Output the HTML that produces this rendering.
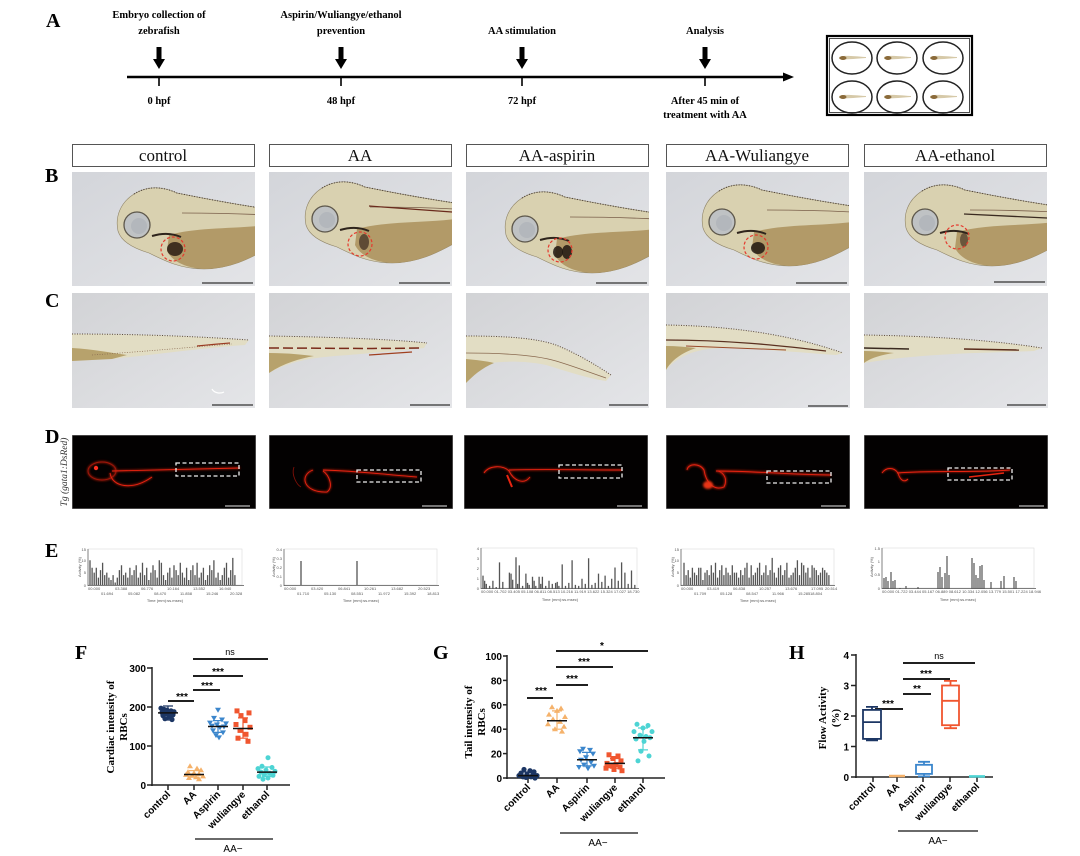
<!DOCTYPE html>
<html><head><meta charset="utf-8"><style>
html,body{margin:0;padding:0;background:#fff;}
svg{display:block;}
.ser{font-family:"Liberation Serif",serif;}
.sans{font-family:"Liberation Sans",sans-serif;}
</style></head><body>
<svg width="1080" height="856" viewBox="0 0 1080 856" xmlns="http://www.w3.org/2000/svg">
<defs>
 <linearGradient id="bgB" x1="0" y1="0" x2="1" y2="1"><stop offset="0" stop-color="#d3d5da"/><stop offset="1" stop-color="#e3e4e7"/></linearGradient>
 <linearGradient id="bgC" x1="0" y1="0" x2="1" y2="1"><stop offset="0" stop-color="#d2d3d6"/><stop offset="1" stop-color="#e4e5e8"/></linearGradient>
 <filter id="glow" x="-20%" y="-50%" width="140%" height="200%"><feGaussianBlur stdDeviation="1.1"/></filter>
 <g id="fishB">
  <path d="M190,36 C150,30 120,24 100,20 C85,13 70,13 57,21 C43,30 38,44 41,58 C44,68 55,75 72,80 C88,88 104,96 127,96 C152,96 172,86 190,76 Z" fill="#d9d1b0" stroke="#8f8468" stroke-width="0.6"/>
  <path d="M92,62 C120,54 160,56 190,52 L190,76 C172,86 152,96 127,96 C108,95 95,88 90,78 Z" fill="#ad9460" opacity="0.9"/>
  <path d="M57,21 C70,13 85,13 100,20 C120,24 150,30 190,36" fill="none" stroke="#4e4236" stroke-width="1.1" stroke-dasharray="1 1.6"/>
  <circle cx="60" cy="52" r="13" fill="#bfc2c4" stroke="#5d574b" stroke-width="1.3"/>
  <circle cx="62" cy="53" r="8" fill="#b3b7bc"/>
  <path d="M75,63 C85,60 95,60 104,64" stroke="#2e241c" stroke-width="2" fill="none"/>
  <path d="M105,40 C140,40 170,41 190,42" stroke="#7a5f4a" stroke-width="0.8" fill="none"/>
 </g>
</defs>

<!-- ===== Panel A ===== -->
<text x="46" y="27" class="ser" font-size="20" font-weight="bold">A</text>
<line x1="127" y1="77" x2="786" y2="77" stroke="#000" stroke-width="2.5"/>
<polygon points="783,72.5 794,77 783,81.5" fill="#000"/>
<g stroke="#000" stroke-width="1.6">
 <line x1="159" y1="77" x2="159" y2="86"/><line x1="341" y1="77" x2="341" y2="86"/>
 <line x1="522" y1="77" x2="522" y2="86"/><line x1="705" y1="77" x2="705" y2="86"/>
</g>
<g fill="#000">
 <rect x="156.5" y="47" width="5" height="13"/><polygon points="153,59 165,59 159,69"/>
 <rect x="338.5" y="47" width="5" height="13"/><polygon points="335,59 347,59 341,69"/>
 <rect x="519.5" y="47" width="5" height="13"/><polygon points="516,59 528,59 522,69"/>
 <rect x="702.5" y="47" width="5" height="13"/><polygon points="699,59 711,59 705,69"/>
</g>
<g class="ser" font-size="10.5" font-weight="bold" text-anchor="middle">
 <text x="159" y="18">Embryo collection of</text><text x="159" y="34">zebrafish</text>
 <text x="341" y="18">Aspirin/Wuliangye/ethanol</text><text x="341" y="34">prevention</text>
 <text x="522" y="34">AA stimulation</text>
 <text x="705" y="34">Analysis</text>
 <text x="159" y="104">0 hpf</text><text x="341" y="104">48 hpf</text><text x="522" y="104">72 hpf</text>
 <text x="705" y="104">After 45 min of</text><text x="705" y="118">treatment with AA</text>
</g>
<rect x="827" y="36" width="145" height="79" fill="#fff" stroke="#000" stroke-width="2.2"/>
<rect x="829.5" y="38.5" width="140" height="74" fill="none" stroke="#000" stroke-width="0.7"/>
<g fill="none" stroke="#222" stroke-width="1.5">
 <ellipse cx="852" cy="58" rx="20" ry="16"/><ellipse cx="897" cy="58" rx="20" ry="16"/><ellipse cx="943" cy="58" rx="20" ry="16"/>
 <ellipse cx="852" cy="97" rx="20" ry="16"/><ellipse cx="897" cy="97" rx="20" ry="16"/><ellipse cx="943" cy="97" rx="20" ry="16"/>
</g>
<g>
 <g transform="translate(852,58)"><path d="M-13,-1 C-8,-3 0,-2 14,-1 L14,0 C0,1 -8,2 -13,1 Z" fill="#d6c9a8"/><ellipse cx="-9" cy="0" rx="3.5" ry="2" fill="#8a6a3a"/></g>
 <g transform="translate(897,58)"><path d="M-13,-1 C-8,-3 0,-2 14,-1 L14,0 C0,1 -8,2 -13,1 Z" fill="#d6c9a8"/><ellipse cx="-9" cy="0" rx="3.5" ry="2" fill="#8a6a3a"/></g>
 <g transform="translate(943,58)"><path d="M-13,-1 C-8,-3 0,-2 14,-1 L14,0 C0,1 -8,2 -13,1 Z" fill="#d6c9a8"/><ellipse cx="-9" cy="0" rx="3.5" ry="2" fill="#8a6a3a"/></g>
 <g transform="translate(852,97)"><path d="M-13,-1 C-8,-3 0,-2 14,-1 L14,0 C0,1 -8,2 -13,1 Z" fill="#d6c9a8"/><ellipse cx="-9" cy="0" rx="3.5" ry="2" fill="#8a6a3a"/></g>
 <g transform="translate(897,97)"><path d="M-13,-1 C-8,-3 0,-2 14,-1 L14,0 C0,1 -8,2 -13,1 Z" fill="#d6c9a8"/><ellipse cx="-9" cy="0" rx="3.5" ry="2" fill="#8a6a3a"/></g>
 <g transform="translate(943,97)"><path d="M-13,-1 C-8,-3 0,-2 14,-1 L14,0 C0,1 -8,2 -13,1 Z" fill="#d6c9a8"/><ellipse cx="-9" cy="0" rx="3.5" ry="2" fill="#8a6a3a"/></g>
</g>

<!-- ===== Header boxes ===== -->
<g fill="#fff" stroke="#555" stroke-width="1">
 <rect x="72.5" y="144.5" width="182" height="22"/><rect x="269.5" y="144.5" width="182" height="22"/>
 <rect x="466.5" y="144.5" width="182" height="22"/><rect x="666.5" y="144.5" width="182" height="22"/>
 <rect x="864.5" y="144.5" width="182" height="22"/>
</g>
<g class="ser" font-size="17" text-anchor="middle" fill="#111">
 <text x="163" y="161">control</text><text x="360" y="161">AA</text><text x="557" y="161">AA-aspirin</text>
 <text x="757" y="161">AA-Wuliangye</text><text x="955" y="161">AA-ethanol</text>
</g>

<!-- ===== Panel letters ===== -->
<g class="ser" font-size="20" font-weight="bold">
 <text x="45" y="182">B</text><text x="45" y="307">C</text><text x="45" y="443">D</text><text x="45" y="557">E</text>
 <text x="75" y="659">F</text><text x="433" y="659">G</text><text x="789" y="659">H</text>
</g>

<!-- ===== Row B ===== -->
<svg x="72" y="172" width="183" height="114">
 <rect width="183" height="114" fill="url(#bgB)"/>
 <use href="#fishB" transform="translate(5,1)"/>
 <ellipse cx="103" cy="77" rx="8" ry="7" fill="#2a1c14" opacity="0.85"/>
 <circle cx="101" cy="77" r="12" fill="none" stroke="#e53a2e" stroke-width="1.2" stroke-dasharray="3 2"/>
 <line x1="130" y1="111" x2="181" y2="111" stroke="#333" stroke-width="1.2"/>
</svg>
<svg x="269" y="172" width="183" height="114">
 <rect width="183" height="114" fill="url(#bgB)"/>
 <use href="#fishB" transform="translate(-4,-5)"/>
 <path d="M100,34 L183,40" stroke="#6a2a1c" stroke-width="1.2"/>
 <ellipse cx="95" cy="70" rx="5" ry="8" fill="#3a2a20" opacity="0.7"/>
 <circle cx="91" cy="72" r="12" fill="none" stroke="#e53a2e" stroke-width="1.2" stroke-dasharray="3 2"/>
 <line x1="130" y1="111" x2="181" y2="111" stroke="#333" stroke-width="1.2"/>
</svg>
<svg x="466" y="172" width="183" height="114">
 <rect width="183" height="114" fill="url(#bgB)"/>
 <use href="#fishB" transform="translate(-1,5)"/>
 <ellipse cx="92" cy="80" rx="5" ry="6" fill="#1e1610" opacity="0.85"/><ellipse cx="101" cy="80" rx="5" ry="7" fill="#1e1610" opacity="0.85"/>
 <circle cx="94" cy="78" r="12" fill="none" stroke="#e53a2e" stroke-width="1.2" stroke-dasharray="3 2"/>
 <line x1="130" y1="111" x2="181" y2="111" stroke="#333" stroke-width="1.2"/>
</svg>
<svg x="666" y="172" width="183" height="114">
 <rect width="183" height="114" fill="url(#bgB)"/>
 <use href="#fishB" transform="translate(-4,-2)"/>
 <ellipse cx="92" cy="76" rx="7" ry="6" fill="#1e1610" opacity="0.85"/>
 <circle cx="90" cy="75" r="12" fill="none" stroke="#e53a2e" stroke-width="1.2" stroke-dasharray="3 2"/>
 <line x1="130" y1="111" x2="181" y2="111" stroke="#333" stroke-width="1.2"/>
</svg>
<svg x="864" y="172" width="183" height="114">
 <rect width="183" height="114" fill="url(#bgB)"/>
 <use href="#fishB" transform="translate(1,-2)"/>
 <path d="M100,42 L183,46" stroke="#3a2a20" stroke-width="1.3"/>
 <ellipse cx="100" cy="68" rx="4" ry="7" fill="#3a2a20" opacity="0.6"/>
 <circle cx="93" cy="65" r="12" fill="none" stroke="#e53a2e" stroke-width="1.2" stroke-dasharray="3 2"/>
 <line x1="130" y1="110" x2="181" y2="110" stroke="#333" stroke-width="1.2"/>
</svg>

<!-- ===== Row C ===== -->
<svg x="72" y="293" width="183" height="115">
 <rect width="183" height="115" fill="url(#bgC)"/>
 <path d="M0,41 C60,41 120,43 177,47 L173,52 C130,55 80,62 40,66 L0,68 Z" fill="#e2ddc4"/>
 <path d="M0,55 C20,56 40,60 55,62 L40,66 L0,68 Z" fill="#b7a26c"/>
 <path d="M0,41 C60,41 120,43 177,47" fill="none" stroke="#5b4a3c" stroke-width="1" stroke-dasharray="1 1.5"/>
 <path d="M20,62 C80,58 120,54 160,51" fill="none" stroke="#8a6a50" stroke-width="0.7" stroke-dasharray="1 1.5"/>
 <path d="M125,53 C135,52 145,51 158,50" stroke="#9a3a22" stroke-width="1.2" fill="none"/>
 <path d="M140,96 C142,100 148,101 152,99" stroke="#fff" stroke-width="1.2" fill="none"/>
 <line x1="140" y1="112" x2="181" y2="112" stroke="#333" stroke-width="1.2"/>
</svg>
<svg x="269" y="293" width="183" height="115">
 <rect width="183" height="115" fill="url(#bgC)"/>
 <path d="M0,43 C60,44 120,46 158,50 L155,55 C130,58 100,60 80,62 C50,64 25,66 0,80 Z" fill="#e2ddc4"/>
 <path d="M0,60 C20,60 35,62 45,63 C30,66 15,70 0,80 Z" fill="#b7a26c"/>
 <path d="M0,43 C60,44 120,46 158,50" fill="none" stroke="#5b4a3c" stroke-width="1" stroke-dasharray="1 1.5"/>
 <path d="M0,55 C50,55 100,56 150,55" fill="none" stroke="#7a2a1a" stroke-width="1.5" stroke-dasharray="10 4"/>
 <path d="M100,62 L143,59" stroke="#a0401f" stroke-width="1.2"/>
 <line x1="141" y1="112" x2="181" y2="112" stroke="#333" stroke-width="1.2"/>
</svg>
<svg x="466" y="293" width="183" height="115">
 <rect width="183" height="115" fill="url(#bgC)"/>
 <path d="M0,43 C40,43 70,45 90,52 C110,60 130,72 145,82 L140,88 C120,85 100,78 80,72 C60,68 40,68 25,70 C15,75 5,85 0,90 Z" fill="#e2ddc4"/>
 <path d="M0,66 C10,67 20,68 28,70 C15,75 5,85 0,90 Z" fill="#b7a26c"/>
 <path d="M0,43 C40,43 70,45 90,52 C110,60 130,72 145,82" fill="none" stroke="#5b4a3c" stroke-width="1" stroke-dasharray="1 1.5"/>
 <path d="M0,60 C40,60 70,62 90,68 C110,74 125,80 140,85" fill="none" stroke="#8a6a50" stroke-width="0.8"/>
 <line x1="143" y1="112" x2="182" y2="112" stroke="#333" stroke-width="1.2"/>
</svg>
<svg x="666" y="293" width="184" height="115">
 <rect width="184" height="115" fill="url(#bgC)"/>
 <path d="M0,32 C60,33 120,40 177,60 L170,62 C140,60 100,56 60,55 C35,55 15,60 0,77 Z" fill="#e2ddc4"/>
 <path d="M0,53 C10,53 20,54 30,55 C15,60 5,68 0,77 Z" fill="#b7a26c"/>
 <path d="M0,32 C60,33 120,40 177,60" fill="none" stroke="#5b4a3c" stroke-width="1" stroke-dasharray="1 1.5"/>
 <path d="M0,47 C60,47 110,52 160,58" fill="none" stroke="#5a3020" stroke-width="1.3"/>
 <path d="M20,53 L120,57" stroke="#9a4a2a" stroke-width="1"/>
 <line x1="142" y1="113" x2="182" y2="113" stroke="#333" stroke-width="1.2"/>
</svg>
<svg x="864" y="293" width="184" height="115">
 <rect width="184" height="115" fill="url(#bgC)"/>
 <path d="M0,42 C60,43 120,46 178,55 L170,58 C120,60 60,60 0,70 Z" fill="#e2ddc4"/>
 <path d="M0,58 C10,58 20,59 30,60 C15,62 5,66 0,70 Z" fill="#b7a26c"/>
 <path d="M0,42 C60,43 120,46 178,55" fill="none" stroke="#5b4a3c" stroke-width="1" stroke-dasharray="1 1.5"/>
 <path d="M0,55 L45,56" stroke="#3a2a20" stroke-width="1.5"/>
 <path d="M100,56 L155,57" stroke="#5a2a1a" stroke-width="1.5"/>
 <line x1="143" y1="112" x2="182" y2="112" stroke="#333" stroke-width="1.2"/>
</svg>

<!-- ===== Row D ===== -->
<text transform="translate(67,472) rotate(-90)" class="ser" font-size="9.5" font-style="italic" text-anchor="middle" fill="#333">Tg (gata1:DsRed)</text>
<svg x="72" y="435" width="184" height="74">
 <rect width="184" height="74" fill="#030101" stroke="#888" stroke-width="1"/>
 <g fill="none" stroke="#e82410">
  <g filter="url(#glow)" opacity="0.6" stroke-width="2"><ellipse cx="30" cy="36" rx="14" ry="9"/><path d="M38,38 C40,52 60,56 80,42 M40,36 L168,33"/></g>
  <g stroke-width="0.9"><ellipse cx="30" cy="36" rx="14" ry="9" stroke="#a01808"/><path d="M38,38 C40,52 60,56 80,42"/><path d="M40,36 L168,33"/></g>
 </g>
 <circle cx="24" cy="33" r="2.2" fill="#ff3020"/>
 <rect x="104" y="28" width="63" height="13" fill="none" stroke="#eee" stroke-width="1.3" stroke-dasharray="4 2.5"/>
 <line x1="153" y1="71" x2="178" y2="71" stroke="#bbb" stroke-width="1.2"/>
</svg>
<svg x="269" y="435" width="184" height="74">
 <rect width="184" height="74" fill="#030101" stroke="#888" stroke-width="1"/>
 <g fill="none" stroke="#e82410">
  <g filter="url(#glow)" opacity="0.6" stroke-width="2"><path d="M44,35 C30,40 34,58 58,57 C65,52 60,40 54,36 M54,35 C90,36 120,40 148,42"/></g>
  <g stroke-width="0.9"><path d="M25,32 C22,40 28,50 32,52" stroke="#801008"/><path d="M44,35 C30,40 34,58 58,57 C65,52 60,40 54,36"/><path d="M54,35 C90,36 120,40 148,42"/></g>
 </g>
 <rect x="88" y="35" width="64" height="12" fill="none" stroke="#eee" stroke-width="1.3" stroke-dasharray="4 2.5"/>
 <line x1="153" y1="71" x2="178" y2="71" stroke="#bbb" stroke-width="1.2"/>
</svg>
<svg x="464" y="435" width="184" height="74">
 <rect width="184" height="74" fill="#030101" stroke="#888" stroke-width="1"/>
 <g fill="none" stroke="#e82410">
  <g filter="url(#glow)" opacity="0.6" stroke-width="2"><path d="M20,38 C25,30 40,30 45,36 C50,46 60,50 66,42 M45,35 C80,34 120,35 158,35"/></g>
  <g stroke-width="0.9"><path d="M20,38 C25,30 40,30 45,36 C50,46 60,50 66,42"/><path d="M45,35 C80,34 120,35 158,35"/><path d="M43,40 L48,52" stroke-width="2"/></g>
 </g>
 <rect x="95" y="30" width="63" height="13" fill="none" stroke="#eee" stroke-width="1.3" stroke-dasharray="4 2.5"/>
 <line x1="153" y1="71" x2="178" y2="71" stroke="#bbb" stroke-width="1.2"/>
</svg>
<svg x="666" y="435" width="184" height="74">
 <rect width="184" height="74" fill="#030101" stroke="#888" stroke-width="1"/>
 <g fill="none" stroke="#e82410">
  <g filter="url(#glow)" opacity="0.65" stroke-width="2.4"><path d="M21,35 C22,28 34,28 38,35 C40,48 48,56 58,52 C62,44 58,38 52,36 M50,36 C90,36 130,40 165,40"/></g>
  <g stroke-width="0.9"><path d="M21,35 C22,28 34,28 38,35 C40,48 48,56 58,52 C62,44 58,38 52,36"/><path d="M50,36 C90,36 130,40 165,40"/></g>
 </g>
 <ellipse cx="42" cy="50" rx="5" ry="4" fill="#e83418" filter="url(#glow)"/>
 <rect x="101" y="36" width="64" height="12" fill="none" stroke="#eee" stroke-width="1.3" stroke-dasharray="4 2.5"/>
 <line x1="155" y1="71" x2="180" y2="71" stroke="#bbb" stroke-width="1.2"/>
</svg>
<svg x="864" y="435" width="184" height="74">
 <rect width="184" height="74" fill="#030101" stroke="#888" stroke-width="1"/>
 <g fill="none" stroke="#e82410">
  <g filter="url(#glow)" opacity="0.6" stroke-width="2"><path d="M18,38 C22,32 30,32 34,38 C36,45 40,48 44,44 M33,38 C70,35 110,38 146,35"/></g>
  <g stroke-width="0.9"><path d="M18,38 C22,32 30,32 34,38 C36,45 40,48 44,44"/><path d="M33,38 C70,35 110,38 146,35"/><path d="M105,42 L140,38" stroke-width="1.6"/></g>
 </g>
 <rect x="84" y="33" width="64" height="12" fill="none" stroke="#eee" stroke-width="1.3" stroke-dasharray="4 2.5"/>
 <line x1="155" y1="71" x2="180" y2="71" stroke="#bbb" stroke-width="1.2"/>
</svg>

<!-- ===== Row E ===== -->
<g class="sans" font-size="4" fill="#555">
 <rect x="88" y="549" width="154" height="36" fill="none" stroke="#ddd" stroke-width="0.6"/>
 <line x1="88" y1="549" x2="88" y2="586" stroke="#555" stroke-width="0.7"/>
 <line x1="88" y1="585.5" x2="244" y2="585.5" stroke="#555" stroke-width="0.7"/>
 <g transform="translate(90,585) scale(2.1,-2.47)" stroke="#555">
  <path vector-effect="non-scaling-stroke" stroke-width="1.3" d="M0 0V10M1 0V7M2 0V5M3 0V7M4 0V3M5 0V6M6 0V9M7 0V4M8 0V5M9 0V3M10 0V2M11 0V4M12 0V1M13 0V3M14 0V6M15 0V8M16 0V4M17 0V5M18 0V3M19 0V7M20 0V4M21 0V6M22 0V8M23 0V3M24 0V5M25 0V9M26 0V4M27 0V7M28 0V2M29 0V5M30 0V8M31 0V6M32 0V3M33 0V10M34 0V9M35 0V4M36 0V2M37 0V5M38 0V7M39 0V3M40 0V8M41 0V6M42 0V4M43 0V9M44 0V5M45 0V3M46 0V7M47 0V2M48 0V6M49 0V8M50 0V4M51 0V9M52 0V3M53 0V5M54 0V7M55 0V2M56 0V4M57 0V8M58 0V6M59 0V10M60 0V3M61 0V5M62 0V2M63 0V4M64 0V7M65 0V9M66 0V3M67 0V6M68 0V11M69 0V4"/>
 </g>
 <text x="86" y="551" text-anchor="end">15</text><text x="86" y="562" text-anchor="end">10</text><text x="86" y="574" text-anchor="end">5</text><text x="86" y="587" text-anchor="end">0</text>
 <text transform="translate(81,567) rotate(-90)" text-anchor="middle">Activity (%)</text>
 <text x="88" y="590">00.000</text><text x="115" y="590">03.388</text><text x="141" y="590">06.776</text><text x="167" y="590">10.164</text><text x="193" y="590">13.552</text><text x="219" y="590">16.940</text>
 <text x="101" y="595">01.694</text><text x="128" y="595">05.082</text><text x="154" y="595">08.470</text><text x="180" y="595">11.858</text><text x="206" y="595">15.246</text><text x="230" y="595">20.328</text>
 <text x="165" y="602" text-anchor="middle">Time (mm):ss.msec)</text>

 <rect x="284" y="549" width="153" height="36" fill="none" stroke="#ddd" stroke-width="0.6"/>
 <line x1="284" y1="549" x2="284" y2="586" stroke="#555" stroke-width="0.7"/>
 <line x1="284" y1="585.5" x2="439" y2="585.5" stroke="#555" stroke-width="0.7"/>
 <line x1="301" y1="585" x2="301" y2="561" stroke="#555" stroke-width="1.3"/>
 <line x1="357" y1="585" x2="357" y2="561" stroke="#555" stroke-width="1.3"/>
 <text x="282" y="551" text-anchor="end">0.4</text><text x="282" y="560" text-anchor="end">0.3</text><text x="282" y="569" text-anchor="end">0.2</text><text x="282" y="578" text-anchor="end">0.1</text><text x="282" y="587" text-anchor="end">0</text>
 <text transform="translate(275,567) rotate(-90)" text-anchor="middle">Activity (%)</text>
 <text x="284" y="590">00.000</text><text x="311" y="590">03.420</text><text x="338" y="590">06.841</text><text x="364" y="590">10.261</text><text x="391" y="590">13.682</text><text x="418" y="590">20.523</text>
 <text x="297" y="595">01.710</text><text x="324" y="595">05.130</text><text x="351" y="595">08.551</text><text x="378" y="595">11.972</text><text x="404" y="595">15.392</text><text x="427" y="595">18.813</text>
 <text x="361" y="602" text-anchor="middle">Time (mm):ss.msec)</text>

 <rect x="481" y="548" width="156" height="40" fill="none" stroke="#ddd" stroke-width="0.6"/>
 <line x1="481" y1="548" x2="481" y2="589" stroke="#555" stroke-width="0.7"/>
 <line x1="481" y1="588.5" x2="639" y2="588.5" stroke="#555" stroke-width="0.7"/>
 <g transform="translate(483,589) scale(3.3,-10.25)" stroke="#555">
  <path vector-effect="non-scaling-stroke" stroke-width="1.3" d="M0 0V1.3M0.5 0V0.8M1 0V0.5M2 0V0.3M3 0V0.8M4 0V0.2M5 0V2.6M6 0V0.7M8 0V1.6M8.5 0V1.5M9 0V0.9M10 0V3.1M10.5 0V0.5M11 0V2.3M12 0V0.3M13 0V1.5M13.5 0V0.6M14 0V0.4M15 0V1.2M15.5 0V0.8M16 0V0.3M17 0V1.2M17.5 0V0.5M18 0V1.2M19 0V0.3M20 0V0.8M21 0V0.5M22 0V0.6M22.5 0V0.7M23 0V0.3M24 0V2.4M25 0V0.3M26 0V0.6M27 0V2.8M28 0V0.4M29 0V0.3M30 0V1.0M31 0V0.5M32 0V3.0M33 0V0.4M34 0V0.6M35 0V1.5M36 0V0.7M37 0V1.3M38 0V0.3M39 0V1.0M40 0V2.1M41 0V0.8M42 0V2.6M43 0V1.6M44 0V0.5M45 0V1.8M46 0V0.4"/>
 </g>
 <text x="479" y="550" text-anchor="end">4</text><text x="479" y="560" text-anchor="end">3</text><text x="479" y="570" text-anchor="end">2</text><text x="479" y="580" text-anchor="end">1</text><text x="479" y="590" text-anchor="end">0</text>
 <text x="481" y="593">00.000 01.702 03.405 05.108 06.811 08.513 10.216 11.919 13.622 15.324 17.027 18.730</text>
 <text x="560" y="601" text-anchor="middle">Time (mm):ss.msec)</text>

 <rect x="681" y="549" width="153" height="36" fill="none" stroke="#ddd" stroke-width="0.6"/>
 <line x1="681" y1="549" x2="681" y2="586" stroke="#555" stroke-width="0.7"/>
 <line x1="681" y1="585.5" x2="835" y2="585.5" stroke="#555" stroke-width="0.7"/>
 <g transform="translate(684,585) scale(2.1,-2.47)" stroke="#555">
  <path vector-effect="non-scaling-stroke" stroke-width="1.3" d="M0 0V9M1 0V4M2 0V6M3 0V3M4 0V7M5 0V5M6 0V4M7 0V7M8 0V7M9 0V2M10 0V5M11 0V6M12 0V4M13 0V8M14 0V5M15 0V9M16 0V3M17 0V6M18 0V8M19 0V4M20 0V7M21 0V5M22 0V4M23 0V8M24 0V5M25 0V5M26 0V3M27 0V6M28 0V4M29 0V7M30 0V9M31 0V3M32 0V8M33 0V4M34 0V5M35 0V7M36 0V9M37 0V4M38 0V5M39 0V8M40 0V4M41 0V6M42 0V11M43 0V5M44 0V3M45 0V7M46 0V8M47 0V4M48 0V6M49 0V9M50 0V3M51 0V4M52 0V5M53 0V7M54 0V10M55 0V4M56 0V9M57 0V8M58 0V5M59 0V7M60 0V3M61 0V8M62 0V7M63 0V6M64 0V4M65 0V5M66 0V7M67 0V6M68 0V5M69 0V4"/>
 </g>
 <text x="679" y="551" text-anchor="end">15</text><text x="679" y="562" text-anchor="end">10</text><text x="679" y="574" text-anchor="end">5</text><text x="679" y="587" text-anchor="end">0</text>
 <text transform="translate(674,567) rotate(-90)" text-anchor="middle">Activity (%)</text>
 <text x="681" y="590">00.000</text><text x="707" y="590">03.419</text><text x="733" y="590">06.838</text><text x="759" y="590">10.257</text><text x="785" y="590">13.676</text><text x="811" y="590">17.095</text><text x="825" y="590">20.514</text>
 <text x="694" y="595">01.709</text><text x="720" y="595">05.128</text><text x="746" y="595">08.547</text><text x="772" y="595">11.966</text><text x="798" y="595">15.285</text><text x="810" y="595">18.804</text>
 <text x="758" y="602" text-anchor="middle">Time (mm):ss.msec)</text>

 <rect x="882" y="548" width="152" height="40" fill="none" stroke="#ddd" stroke-width="0.6"/>
 <line x1="882" y1="548" x2="882" y2="589" stroke="#555" stroke-width="0.7"/>
 <line x1="882" y1="588.5" x2="1036" y2="588.5" stroke="#555" stroke-width="0.7"/>
 <path stroke="#555" stroke-width="1.2" d="M884 589V578M886 589V577M888 589V581M891 589V572M893 589V581M895 589V580M900 589V588M906 589V586M918 589V587M938 589V572M940 589V567M942 589V577M945 589V573M947 589V556M949 589V575M972 589V558M974 589V563M976 589V575M978 589V578M980 589V566M982 589V565M984 589V580M991 589V582M1001 589V581M1004 589V576M1014 589V577M1016 589V581"/>
 <text x="880" y="550" text-anchor="end">1.5</text><text x="880" y="563" text-anchor="end">1</text><text x="880" y="576" text-anchor="end">0.5</text><text x="880" y="590" text-anchor="end">0</text>
 <text transform="translate(873,567) rotate(-90)" text-anchor="middle">Activity (%)</text>
 <text x="882" y="593">00.000 01.722 03.444 05.167 06.889 08.612 10.334 12.056 13.779 15.501 17.224 18.946</text>
 <text x="958" y="601" text-anchor="middle">Time (mm):ss.msec)</text>
</g>

<!-- ===== Panel F ===== -->
<g class="sans" font-weight="bold" font-size="10">
 <line x1="152" y1="667" x2="152" y2="786" stroke="#222" stroke-width="1.5"/>
 <line x1="151" y1="785" x2="290" y2="785" stroke="#222" stroke-width="1.5"/>
 <g stroke="#222" stroke-width="1.5">
  <line x1="147" y1="785" x2="152" y2="785"/><line x1="147" y1="746" x2="152" y2="746"/><line x1="147" y1="707" x2="152" y2="707"/><line x1="147" y1="668" x2="152" y2="668"/>
  <line x1="168" y1="785" x2="168" y2="790"/><line x1="194" y1="785" x2="194" y2="790"/><line x1="218" y1="785" x2="218" y2="790"/><line x1="243" y1="785" x2="243" y2="790"/><line x1="267" y1="785" x2="267" y2="790"/>
 </g>
 <text x="146" y="789" text-anchor="end">0</text><text x="146" y="750" text-anchor="end">100</text><text x="146" y="711" text-anchor="end">200</text><text x="146" y="672" text-anchor="end">300</text>
 <g text-anchor="end">
  <text transform="translate(171,795) rotate(-45)">control</text>
  <text transform="translate(197,795) rotate(-45)">AA</text>
  <text transform="translate(221,795) rotate(-45)">Aspirin</text>
  <text transform="translate(246,795) rotate(-45)">wuliangye</text>
  <text transform="translate(270,795) rotate(-45)">ethanol</text>
 </g>
 <line x1="195" y1="839" x2="273" y2="839" stroke="#111" stroke-width="1.3"/>
 <text x="233" y="852" text-anchor="middle" font-weight="normal">AA−</text>
 <g class="ser" font-size="11" text-anchor="middle">
  <text transform="translate(114,727) rotate(-90)">Cardiac intensity of</text>
  <text transform="translate(127,727) rotate(-90)">RBCs</text>
 </g>
 <g stroke="#000" stroke-width="1.8">
  <line x1="193" y1="659" x2="268" y2="659"/><line x1="193" y1="676" x2="243" y2="676"/>
  <line x1="193" y1="690" x2="220" y2="690"/><line x1="168" y1="701" x2="194" y2="701"/>
 </g>
 <text x="230" y="655" text-anchor="middle" font-weight="normal" font-size="9">ns</text>
 <text x="218" y="675" text-anchor="middle">***</text>
 <text x="207" y="689" text-anchor="middle">***</text>
 <text x="182" y="700" text-anchor="middle">***</text>
 <g fill="#1c3664">
  <circle cx="161" cy="708.2" r="2.6"/><circle cx="164" cy="709.3" r="2.6"/><circle cx="167" cy="710.1" r="2.6"/><circle cx="171" cy="710.9" r="2.6"/><circle cx="174" cy="711.7" r="2.6"/><circle cx="162" cy="712.5" r="2.6"/><circle cx="170" cy="712.9" r="2.6"/><circle cx="166" cy="713.6" r="2.6"/><circle cx="173" cy="714.8" r="2.6"/><circle cx="163" cy="715.6" r="2.6"/><circle cx="169" cy="716.8" r="2.6"/><circle cx="165" cy="718.7" r="2.6"/><circle cx="172" cy="719.5" r="2.6"/>
 </g>
 <g fill="#f5b26b">
  <polygon points="190,763.3 187,768.3 193,768.3"/><polygon points="197,765.6 194,770.6 200,770.6"/><polygon points="201,767.2 198,772.2 204,772.2"/><polygon points="188,769.1 185,774.1 191,774.1"/><polygon points="194,770.3 191,775.3 197,775.3"/><polygon points="199,771.1 196,776.1 202,776.1"/><polygon points="186,771.9 183,776.9 189,776.9"/><polygon points="192,772.6 189,777.6 195,777.6"/><polygon points="203,773.4 200,778.4 206,778.4"/><polygon points="196,774.2 193,779.2 199,779.2"/><polygon points="189,775 186,780 192,780"/><polygon points="199,776.2 196,781.2 202,781.2"/>
 </g>
 <g fill="#3b86cc">
  <polygon points="218,712.7 215,707.7 221,707.7"/><polygon points="214,720.9 211,715.9 217,715.9"/><polygon points="222,722.5 219,717.5 225,717.5"/><polygon points="210,725.6 207,720.6 213,720.6"/><polygon points="226,726.4 223,721.4 229,721.4"/><polygon points="217,727.5 214,722.5 220,722.5"/><polygon points="212,728.7 209,723.7 215,723.7"/><polygon points="224,729.5 221,724.5 227,724.5"/><polygon points="220,730.3 217,725.3 223,725.3"/><polygon points="213,733.4 210,728.4 216,728.4"/><polygon points="223,735.4 220,730.4 226,730.4"/><polygon points="216,738.1 213,733.1 219,733.1"/><polygon points="219,740.4 216,735.4 222,735.4"/>
 </g>
 <g fill="#f0562f">
  <rect x="234.5" y="708.4" width="5" height="5"/><rect x="246.5" y="710.4" width="5" height="5"/><rect x="238.5" y="713.1" width="5" height="5"/><rect x="242.5" y="718.1" width="5" height="5"/><rect x="233.5" y="722" width="5" height="5"/><rect x="247.5" y="724.8" width="5" height="5"/><rect x="237.5" y="727.9" width="5" height="5"/><rect x="243.5" y="731.8" width="5" height="5"/><rect x="235.5" y="735.7" width="5" height="5"/><rect x="245.5" y="738.8" width="5" height="5"/>
 </g>
 <g fill="#4dd4d4">
  <circle cx="268" cy="757.7" r="2.5"/><circle cx="262" cy="766.3" r="2.5"/><circle cx="272" cy="767.5" r="2.5"/><circle cx="258" cy="768.6" r="2.5"/><circle cx="266" cy="770.2" r="2.5"/><circle cx="275" cy="771.4" r="2.5"/><circle cx="261" cy="772.1" r="2.5"/><circle cx="270" cy="773.3" r="2.5"/><circle cx="264" cy="774.1" r="2.5"/><circle cx="273" cy="775.3" r="2.5"/><circle cx="259" cy="776.4" r="2.5"/><circle cx="268" cy="778" r="2.5"/><circle cx="263" cy="779.2" r="2.5"/>
 </g>
 <g stroke-width="1.2" fill="none">
  <path d="M168,706 V720 M163,706 H173 M163,720 H173" stroke="#1c3664"/>
  <path d="M194,770.6 V777.2 M189,770.6 H199 M189,777.2 H199" stroke="#f5b26b"/>
  <path d="M218,720.6 V732.4 M213,720.6 H223 M213,732.4 H223" stroke="#3b86cc"/>
  <path d="M243,717.9 V738.2 M238,717.9 H248 M238,738.2 H248" stroke="#f0562f"/>
  <path d="M267,767 V776.4 M262,767 H272 M262,776.4 H272" stroke="#4dd4d4"/>
 </g>
 <g stroke="#111" stroke-width="1.5">
  <line x1="158" y1="712.9" x2="178" y2="712.9"/><line x1="184" y1="774.5" x2="204" y2="774.5"/><line x1="208" y1="726.5" x2="228" y2="726.5"/><line x1="233" y1="728.5" x2="253" y2="728.5"/><line x1="257" y1="772.1" x2="277" y2="772.1"/>
 </g>
</g>

<!-- ===== Panel G ===== -->
<g class="sans" font-weight="bold" font-size="10">
 <line x1="507" y1="655" x2="507" y2="779" stroke="#222" stroke-width="1.5"/>
 <line x1="506" y1="778" x2="665" y2="778" stroke="#222" stroke-width="1.5"/>
 <g stroke="#222" stroke-width="1.5">
  <line x1="503" y1="778" x2="507" y2="778"/><line x1="503" y1="753.6" x2="507" y2="753.6"/><line x1="503" y1="729.2" x2="507" y2="729.2"/><line x1="503" y1="704.8" x2="507" y2="704.8"/><line x1="503" y1="680.4" x2="507" y2="680.4"/><line x1="503" y1="656" x2="507" y2="656"/>
  <line x1="528" y1="778" x2="528" y2="783"/><line x1="557" y1="778" x2="557" y2="783"/><line x1="587" y1="778" x2="587" y2="783"/><line x1="615" y1="778" x2="615" y2="783"/><line x1="643" y1="778" x2="643" y2="783"/>
 </g>
 <text x="502" y="782" text-anchor="end">0</text><text x="502" y="757.6" text-anchor="end">20</text><text x="502" y="733.2" text-anchor="end">40</text><text x="502" y="708.8" text-anchor="end">60</text><text x="502" y="684.4" text-anchor="end">80</text><text x="502" y="660" text-anchor="end">100</text>
 <g text-anchor="end">
  <text transform="translate(531,788) rotate(-45)">control</text>
  <text transform="translate(560,788) rotate(-45)">AA</text>
  <text transform="translate(590,788) rotate(-45)">Aspirin</text>
  <text transform="translate(618,788) rotate(-45)">wuliangye</text>
  <text transform="translate(646,788) rotate(-45)">ethanol</text>
 </g>
 <line x1="560" y1="833" x2="638" y2="833" stroke="#111" stroke-width="1.3"/>
 <text x="598" y="846" text-anchor="middle" font-weight="normal">AA−</text>
 <g class="ser" font-size="11" text-anchor="middle">
  <text transform="translate(472,722) rotate(-90)">Tail intensity of</text>
  <text transform="translate(485,722) rotate(-90)">RBCs</text>
 </g>
 <g stroke="#000" stroke-width="1.8">
  <line x1="556" y1="651" x2="648" y2="651"/><line x1="556" y1="667" x2="613" y2="667"/>
  <line x1="556" y1="685" x2="588" y2="685"/><line x1="527" y1="698" x2="553" y2="698"/>
 </g>
 <text x="602" y="649" text-anchor="middle">*</text>
 <text x="584" y="665" text-anchor="middle">***</text>
 <text x="572" y="682" text-anchor="middle">***</text>
 <text x="541" y="694" text-anchor="middle">***</text>
 <g fill="#1c3664">
  <circle cx="524" cy="769.5" r="2.6"/><circle cx="530" cy="770.7" r="2.6"/><circle cx="534" cy="771.9" r="2.6"/><circle cx="521" cy="773.1" r="2.6"/><circle cx="527" cy="774.3" r="2.6"/><circle cx="533" cy="774.3" r="2.6"/><circle cx="519" cy="775.6" r="2.6"/><circle cx="537" cy="775.6" r="2.6"/><circle cx="523" cy="776.8" r="2.6"/><circle cx="531" cy="776.8" r="2.6"/><circle cx="526" cy="777.4" r="2.6"/><circle cx="535" cy="778" r="2.6"/>
 </g>
 <g fill="#f5b26b">
  <polygon points="552,704.2 549,709.2 555,709.2"/><polygon points="561,705.5 558,710.5 564,710.5"/><polygon points="557,707.9 554,712.9 560,712.9"/><polygon points="549,711.6 546,716.6 552,716.6"/><polygon points="565,714 562,719 568,719"/><polygon points="553,716.4 550,721.4 556,721.4"/><polygon points="560,718.9 557,723.9 563,723.9"/><polygon points="548,721.3 545,726.3 551,726.3"/><polygon points="564,723.8 561,728.8 567,728.8"/><polygon points="555,726.2 552,731.2 558,731.2"/><polygon points="562,728.6 559,733.6 565,733.6"/>
 </g>
 <g fill="#3b86cc">
  <polygon points="583,751.7 580,746.7 586,746.7"/><polygon points="590,752.9 587,747.9 593,747.9"/><polygon points="580,754.2 577,749.2 583,749.2"/><polygon points="593,756.6 590,751.6 596,751.6"/><polygon points="586,760.3 583,755.3 589,755.3"/><polygon points="581,762.7 578,757.7 584,757.7"/><polygon points="591,765.1 588,760.1 594,760.1"/><polygon points="584,767.6 581,762.6 587,762.6"/><polygon points="594,768.8 591,763.8 597,763.8"/><polygon points="579,770 576,765 582,765"/><polygon points="588,771.2 585,766.2 591,766.2"/>
 </g>
 <g fill="#f0562f">
  <rect x="606.5" y="752.3" width="5" height="5"/><rect x="615.5" y="753.5" width="5" height="5"/><rect x="610.5" y="756" width="5" height="5"/><rect x="618.5" y="758.4" width="5" height="5"/><rect x="604.5" y="760.9" width="5" height="5"/><rect x="613.5" y="762.1" width="5" height="5"/><rect x="608.5" y="763.3" width="5" height="5"/><rect x="617.5" y="764.5" width="5" height="5"/><rect x="603.5" y="765.7" width="5" height="5"/><rect x="611.5" y="767" width="5" height="5"/><rect x="619.5" y="768.2" width="5" height="5"/>
 </g>
 <g fill="#4dd4d4">
  <circle cx="637" cy="724.3" r="2.5"/><circle cx="648" cy="725.5" r="2.5"/><circle cx="643" cy="728" r="2.5"/><circle cx="634" cy="731.6" r="2.5"/><circle cx="652" cy="731.6" r="2.5"/><circle cx="640" cy="735.3" r="2.5"/><circle cx="646" cy="736.5" r="2.5"/><circle cx="650" cy="737.7" r="2.5"/><circle cx="636" cy="739" r="2.5"/><circle cx="644" cy="741.4" r="2.5"/><circle cx="641" cy="751.2" r="2.5"/><circle cx="649" cy="756" r="2.5"/><circle cx="638" cy="760.9" r="2.5"/>
 </g>
 <g stroke-width="1.2" fill="none">
  <path d="M528,772 V778 M523,772 H533" stroke="#1c3664"/>
  <path d="M557,710.9 V729.2 M552,710.9 H562 M552,729.2 H562" stroke="#f5b26b"/>
  <path d="M587,752.4 V765.8 M582,752.4 H592 M582,765.8 H592" stroke="#3b86cc"/>
  <path d="M615,758.5 V768.2 M610,758.5 H620 M610,768.2 H620" stroke="#f0562f"/>
  <path d="M643,728 V749.9 M638,728 H648 M638,749.9 H648" stroke="#4dd4d4"/>
 </g>
 <g stroke="#111" stroke-width="1.5">
  <line x1="518" y1="775.6" x2="538" y2="775.6"/><line x1="547" y1="720.7" x2="567" y2="720.7"/><line x1="577" y1="759.7" x2="597" y2="759.7"/><line x1="605" y1="763.4" x2="625" y2="763.4"/><line x1="633" y1="737.7" x2="653" y2="737.7"/>
 </g>
</g>

<!-- ===== Panel H ===== -->
<g class="sans" font-weight="bold" font-size="10">
 <line x1="856" y1="654" x2="856" y2="778" stroke="#222" stroke-width="1.5"/>
 <line x1="855" y1="777" x2="993" y2="777" stroke="#222" stroke-width="1.5"/>
 <g stroke="#222" stroke-width="1.5">
  <line x1="851" y1="777" x2="856" y2="777"/><line x1="851" y1="746.5" x2="856" y2="746.5"/><line x1="851" y1="716" x2="856" y2="716"/><line x1="851" y1="685.5" x2="856" y2="685.5"/><line x1="851" y1="655" x2="856" y2="655"/>
  <line x1="873" y1="777" x2="873" y2="782"/><line x1="897" y1="777" x2="897" y2="782"/><line x1="923" y1="777" x2="923" y2="782"/><line x1="950" y1="777" x2="950" y2="782"/><line x1="977" y1="777" x2="977" y2="782"/>
 </g>
 <text x="849" y="781" text-anchor="end">0</text><text x="849" y="750.5" text-anchor="end">1</text><text x="849" y="720" text-anchor="end">2</text><text x="849" y="689.5" text-anchor="end">3</text><text x="849" y="659" text-anchor="end">4</text>
 <g text-anchor="end">
  <text transform="translate(876,787) rotate(-45)">control</text>
  <text transform="translate(900,787) rotate(-45)">AA</text>
  <text transform="translate(926,787) rotate(-45)">Aspirin</text>
  <text transform="translate(953,787) rotate(-45)">wuliangye</text>
  <text transform="translate(980,787) rotate(-45)">ethanol</text>
 </g>
 <line x1="898" y1="831" x2="978" y2="831" stroke="#111" stroke-width="1.3"/>
 <text x="938" y="844" text-anchor="middle" font-weight="normal">AA−</text>
 <g class="ser" font-size="11" text-anchor="middle">
  <text transform="translate(826,718) rotate(-90)">Flow Activity</text>
  <text transform="translate(839,718) rotate(-90)">(%)</text>
 </g>
 <g stroke="#000" stroke-width="1.8">
  <line x1="903" y1="663" x2="975" y2="663"/><line x1="903" y1="679" x2="950" y2="679"/>
  <line x1="903" y1="694" x2="931" y2="694"/><line x1="875" y1="709" x2="903" y2="709"/>
 </g>
 <text x="939" y="659" text-anchor="middle" font-weight="normal" font-size="9">ns</text>
 <text x="926" y="677" text-anchor="middle">***</text>
 <text x="917" y="692" text-anchor="middle">**</text>
 <text x="888" y="707" text-anchor="middle">***</text>
 <g fill="none" stroke-width="1.8">
  <g stroke="#1c3664"><rect x="863" y="709.9" width="18" height="29"/><line x1="863" y1="722.1" x2="881" y2="722.1"/><path d="M872,709.9 V706.9 M866,706.9 H878 M872,738.9 V740.4 M866,740.4 H878"/></g>
  <line x1="889" y1="776" x2="905" y2="776" stroke="#f5b26b" stroke-width="2.5"/>
  <g stroke="#3b86cc"><rect x="916" y="764.8" width="16" height="9.1"/><path d="M924,764.8 V761.8 M918,761.8 H930 M924,773.9 V776.4 M918,776.4 H930"/></g>
  <g stroke="#f0562f"><rect x="942" y="685.5" width="17" height="39.7"/><line x1="942" y1="700.8" x2="959" y2="700.8"/><path d="M950.5,685.5 V680.9 M944,680.9 H957 M950.5,725.2 V728.2 M944,728.2 H957"/></g>
  <line x1="969" y1="776.4" x2="985" y2="776.4" stroke="#4dd4d4" stroke-width="2.5"/>
 </g>
</g>
</svg>
</body></html>
